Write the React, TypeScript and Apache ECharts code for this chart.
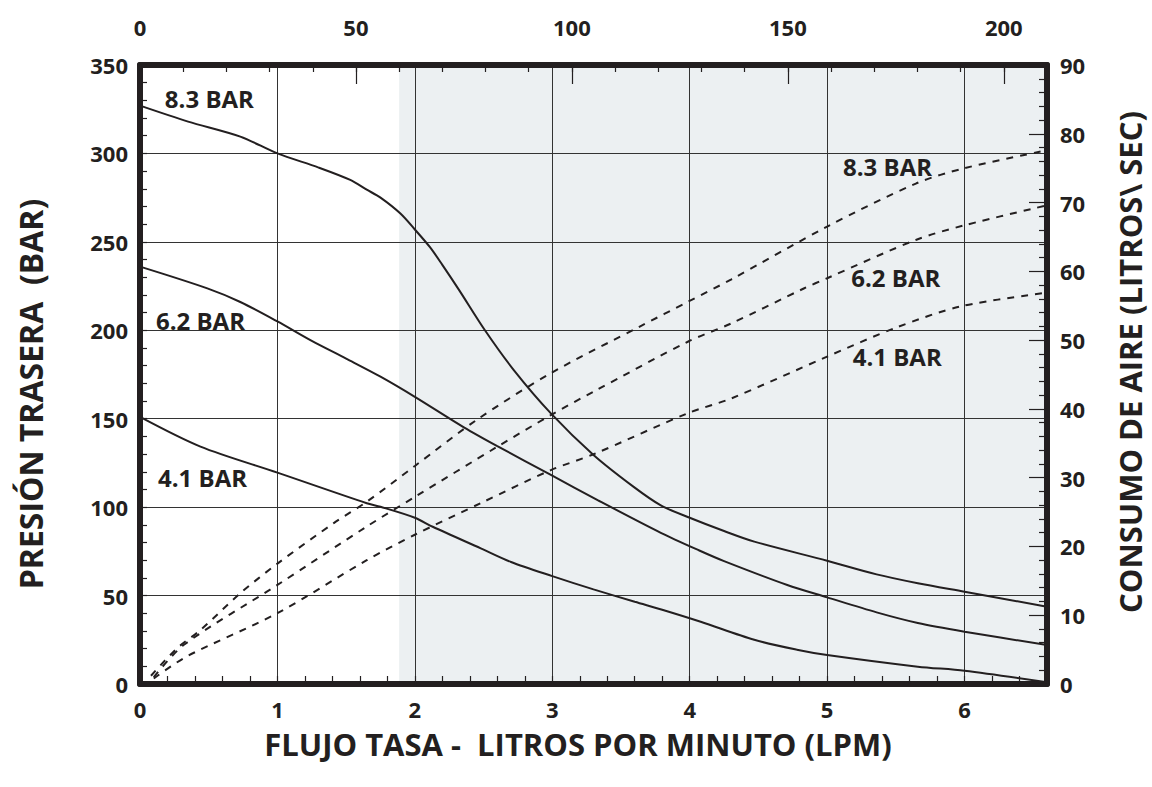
import React, { useEffect, useRef } from "react";
import * as echarts from "echarts";

// Flow in the lower-axis units; left axis = back pressure, right axis = air consumption
const flow83 = [0, 0.35, 0.73, 1.0, 1.3, 1.53, 1.65, 1.75, 1.895, 2.0, 2.11, 2.2, 2.32, 2.51, 2.72, 2.99, 3.3, 3.59, 3.79, 4.0, 4.25, 4.47, 5.0, 5.36, 5.66, 6.0, 6.6];
const press83 = [327, 318, 309.5, 300, 292, 285, 279.5, 275, 266, 257, 247, 237, 223, 200, 177.5, 153, 129.5, 111.6, 101, 94, 86.5, 80.5, 69.7, 62, 57, 52.2, 43.7];

const flow62 = [0, 0.49, 0.73, 1.0, 1.25, 1.5, 1.75, 2.0, 2.36, 2.6, 2.99, 3.33, 3.79, 4.07, 4.25, 4.71, 5.0, 5.36, 5.66, 6.0, 6.6];
const press62 = [236, 223.7, 216, 205, 194, 184, 173.8, 162.4, 145, 134.5, 118.2, 104, 85.5, 75.5, 69.5, 56, 49, 40.5, 34.5, 29.6, 22];

const flow41 = [0, 0.44, 1.0, 1.65, 1.75, 2.0, 2.13, 2.48, 2.7, 3.0, 3.3, 3.6, 3.8, 4.08, 4.47, 4.78, 5.0, 5.66, 6.0, 6.6];
const press41 = [151, 134.2, 119.5, 102.2, 100.2, 94, 88.9, 76.7, 69, 61, 53.5, 46.5, 42, 35.2, 25, 19.4, 16.4, 9.8, 7.5, 1];

const airFlow83 = [0.08, 0.27, 0.44, 0.73, 1.0, 1.41, 1.65, 2.0, 2.45, 2.99, 3.64, 3.99, 4.3, 5.0, 5.65, 6.0, 6.6];
const air83 = [1.2, 5.2, 7.85, 13.2, 17.5, 23.4, 26.5, 31.7, 38.4, 45.2, 52, 55.6, 58.8, 66.5, 72.8, 75.0, 77.6];

const airFlow62 = [0.1, 0.32, 1.0, 1.65, 2.0, 2.6, 2.99, 3.3, 3.99, 4.3, 4.83, 5.0, 5.65, 6.0, 6.6];
const air62 = [1.0, 5.7, 14.4, 22.9, 27.2, 34.5, 39.1, 42.5, 49.8, 52.4, 57.5, 59.0, 64.6, 66.7, 69.6];

const airFlow41 = [0.1, 0.34, 1.0, 1.65, 2.0, 2.48, 2.99, 3.3, 3.99, 4.3, 5.0, 5.5, 5.97, 6.6];
const air41 = [0.8, 4.0, 10.3, 18.0, 21.7, 26.3, 31.1, 33.4, 39.4, 41.5, 47.6, 51.8, 54.9, 56.9];

// Curve captions: [flow, value] anchors
const pressureLabels = ["8.3 BAR", "6.2 BAR", "4.1 BAR"];
const pressureLabelAnchors = [[0.505, 331], [0.44, 205.8], [0.455, 116.5]];
const airLabels = ["8.3 BAR", "6.2 BAR", "4.1 BAR"];
const airLabelAnchors = [[5.44, 75.3], [5.5, 59.1], [5.51, 47.6]];

// Upper axis range and the shaded operating band (upper-axis units)
const topMax = 210;
const shadeFrom = 60;

const leftTitle = "PRESIÓN TRASERA  (BAR)";
const rightTitle = "CONSUMO DE AIRE (LITROS\\ SEC)";
const bottomTitle = "FLUJO TASA -  LITROS POR MINUTO (LPM)";

const INK = "#231f20";
const FONT = "'Open Sans', 'Noto Sans', sans-serif";

const zip = (xs: number[], ys: number[]) => xs.map((x, i) => [x, ys[i]]);

export default function App() {
  const ref = useRef<HTMLDivElement>(null);

  useEffect(() => {
    if (!ref.current) return;
    const chart = echarts.init(ref.current, undefined, { renderer: "svg" });

    const tickLabel = {
      color: INK,
      fontFamily: FONT,
      fontWeight: "bold" as const,
      fontSize: 22,
    };
    const frame = { show: true, onZero: false, lineStyle: { color: INK, width: 6 } };

    const solid = (name: string, xs: number[], ys: number[]) => ({
      type: "line",
      name,
      xAxisIndex: 0,
      yAxisIndex: 0,
      data: zip(xs, ys),
      smooth: 0.3,
      symbol: "none",
      lineStyle: { color: INK, width: 2 },
      z: 5,
    });
    const dashed = (name: string, xs: number[], ys: number[]) => ({
      type: "line",
      name,
      xAxisIndex: 0,
      yAxisIndex: 1,
      data: zip(xs, ys),
      smooth: 0.3,
      symbol: "none",
      lineStyle: { color: INK, width: 2, type: [7, 7] },
      z: 5,
    });
    const captions = (names: string[], anchors: number[][], yIdx: number) => ({
      type: "scatter",
      xAxisIndex: 0,
      yAxisIndex: yIdx,
      symbolSize: 0,
      silent: true,
      z: 6,
      itemStyle: { opacity: 1, color: INK },
      data: names.map((n, i) => ({ name: n, value: anchors[i] })),
      label: {
        show: true,
        position: "inside",
        formatter: "{b}",
        color: INK,
        fontFamily: FONT,
        fontWeight: "bold",
        fontSize: 24,
      },
    });
    const titleStyle = (text: string, size: number) => ({
      text,
      fill: INK,
      font: `bold ${size}px ${FONT}`,
      textAlign: "center",
      textVerticalAlign: "middle",
    });

    chart.setOption({
      animation: false,
      backgroundColor: "#ffffff",
      grid: { left: 140, right: 105, top: 65, bottom: 103 },
      graphic: [
        { type: "text", x: 30, y: 394, rotation: Math.PI / 2, style: titleStyle(leftTitle, 32) },
        { type: "text", x: 1130, y: 362, rotation: Math.PI / 2, style: titleStyle(rightTitle, 31) },
        { type: "text", x: 578, y: 744, style: titleStyle(bottomTitle, 31) },
      ],
      xAxis: [
        {
          type: "value",
          position: "bottom",
          min: 0,
          max: 6.6,
          interval: 1,
          axisLine: frame,
          axisTick: { show: false },
          splitLine: { show: true, lineStyle: { color: "#333333", width: 1 } },
          axisLabel: { ...tickLabel, margin: 14, showMaxLabel: false },
          z: 3,
        },
        {
          type: "value",
          position: "bottom",
          min: 0,
          max: 6.6,
          interval: 0.2,
          axisLine: { show: false, onZero: false },
          axisTick: { show: true, inside: true, length: 8, lineStyle: { color: INK, width: 1.2 } },
          axisLabel: { show: false },
          splitLine: { show: false },
          z: 3,
        },
        {
          type: "value",
          position: "top",
          min: 0,
          max: topMax,
          interval: 50,
          axisLine: frame,
          axisTick: { show: true, inside: true, length: 19, lineStyle: { color: INK, width: 1.2 } },
          axisLabel: { ...tickLabel, margin: 27, showMaxLabel: false },
          splitLine: { show: false },
          z: 3,
        },
        {
          type: "value",
          position: "top",
          min: 0,
          max: topMax,
          interval: 10,
          axisLine: { show: false, onZero: false },
          axisTick: { show: true, inside: true, length: 7, lineStyle: { color: INK, width: 1.2 } },
          axisLabel: { show: false },
          splitLine: { show: false },
          z: 3,
        },
      ],
      yAxis: [
        {
          type: "value",
          position: "left",
          min: 0,
          max: 350,
          interval: 50,
          axisLine: frame,
          axisTick: { show: true, inside: true, length: 7, lineStyle: { color: INK, width: 1.2 } },
          minorTick: { show: true, splitNumber: 5, length: 7, lineStyle: { color: INK, width: 1.2 } },
          splitLine: { show: true, lineStyle: { color: "#333333", width: 1 } },
          axisLabel: { ...tickLabel, margin: 12 },
          z: 3,
        },
        {
          type: "value",
          position: "right",
          min: 0,
          max: 90,
          interval: 10,
          axisLine: frame,
          axisTick: { show: true, inside: true, length: 18, lineStyle: { color: INK, width: 1.2 } },
          minorTick: { show: true, splitNumber: 5, length: 8, lineStyle: { color: INK, width: 1.2 } },
          splitLine: { show: false },
          axisLabel: { ...tickLabel, margin: 13 },
          z: 3,
        },
      ],
      series: [
        {
          type: "line",
          xAxisIndex: 2,
          yAxisIndex: 0,
          data: [],
          silent: true,
          z: -1,
          markArea: {
            silent: true,
            itemStyle: { color: "#ecf0f2" },
            data: [[{ xAxis: shadeFrom }, { xAxis: topMax }]],
          },
        },
        solid("8.3 BAR", flow83, press83),
        solid("6.2 BAR", flow62, press62),
        solid("4.1 BAR", flow41, press41),
        dashed("8.3 BAR aire", airFlow83, air83),
        dashed("6.2 BAR aire", airFlow62, air62),
        dashed("4.1 BAR aire", airFlow41, air41),
        captions(pressureLabels, pressureLabelAnchors, 0),
        captions(airLabels, airLabelAnchors, 1),
      ],
    });

    return () => chart.dispose();
  }, []);

  return (
    <div
      ref={ref}
      style={{ position: "fixed", left: 0, top: 0, width: 1152, height: 787, background: "#fff" }}
    />
  );
}
